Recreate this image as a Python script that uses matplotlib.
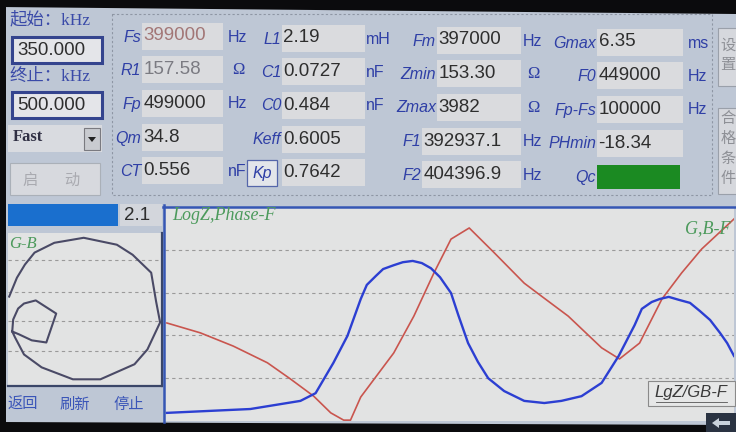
import matplotlib
matplotlib.use("Agg")
import matplotlib.pyplot as plt
from matplotlib.patches import Rectangle, Polygon

# ---------------- data ----------------
start_khz = "350.000"
stop_khz = "500.000"
speed_mode = "Fast"
progress_value = "2.1"

col1_labels = ["Fs", "R1", "Fp", "Qm", "CT"]
col1_values = ["399000", "157.58", "499000", "34.8", "0.556"]
col1_units = ["Hz", "Ω", "Hz", "", "nF"]

col2_labels = ["L1", "C1", "C0", "Keff", "Kp"]
col2_values = ["2.19", "0.0727", "0.484", "0.6005", "0.7642"]
col2_units = ["mH", "nF", "nF", "", ""]

col3_labels = ["Fm", "Zmin", "Zmax", "F1", "F2"]
col3_values = ["397000", "153.30", "3982", "392937.1", "404396.9"]
col3_units = ["Hz", "Ω", "Ω", "Hz", "Hz"]

col4_labels = ["Gmax", "F0", "Fp-Fs", "PHmin", "Qc"]
col4_values = ["6.35", "449000", "100000", "-18.34", ""]
col4_units = ["ms", "Hz", "Hz", "", ""]

# main chart curves (frequency in kHz, value in grid divisions)
blue_f = [350.5, 372.5, 385.7, 389.7, 394.4, 398.1, 401.6, 403.2, 405.6, 407.5,
          410.3, 412.7, 415.3, 417.7, 420.1, 422.5, 425.4, 427.3, 429.9, 432.5,
          435.2, 439.4, 444.7, 450.0, 454.5, 459.8, 465.1, 469.6, 473.8, 475.7,
          478.3, 480.4, 482.8, 485.5, 488.4, 491.0, 493.7, 496.3, 498.2, 500.0]
blue_v = [0.19, 0.28, 0.47, 0.65, 1.36, 1.99, 2.85, 3.18, 3.39, 3.55,
          3.64, 3.71, 3.74, 3.69, 3.57, 3.36, 2.99, 2.48, 1.82, 1.38,
          1.00, 0.70, 0.47, 0.42, 0.47, 0.58, 0.89, 1.52, 2.24, 2.62,
          2.78, 2.85, 2.90, 2.83, 2.76, 2.57, 2.36, 2.06, 1.82, 1.52]
red_f = [350.5, 359.3, 368.0, 377.0, 383.1, 389.2, 393.7, 397.1, 398.9, 401.6,
         410.3, 415.6, 420.9, 425.4, 430.2, 436.8, 444.7, 449.2, 456.3, 465.1,
         469.8, 475.1, 481.0, 486.2, 491.5, 500.0]
red_v = [2.29, 2.06, 1.75, 1.36, 0.98, 0.58, 0.19, 0.02, 0.02, 0.56,
         1.59, 2.45, 3.46, 4.25, 4.51, 3.93, 3.22, 2.92, 2.45, 1.71,
         1.45, 1.82, 2.85, 3.46, 4.02, 4.72]

# G-B admittance loop (mS)
gb_g = [0.00, 0.33, 0.67, 1.08, 1.92, 3.17, 4.58, 5.25, 6.04, 6.25, 6.42, 5.88,
        5.33, 3.88, 2.71, 1.38, 0.63, 0.25, 0.13, 0.17, 0.38, 0.63, 1.13, 2.00,
        1.58, 0.96, 0.42, 0.13]
gb_b = [0.54, 1.33, 1.88, 2.38, 2.79, 3.00, 2.71, 2.29, 1.54, 0.33, -0.54, -1.67,
        -2.29, -2.92, -2.92, -2.42, -1.88, -1.17, -0.92, -0.42, 0.04, 0.25, 0.38, -0.17,
        -1.38, -1.29, -1.04, -0.92]

# ---------------- styles ----------------
BG = "#bec7d5"
BOX = "#dadbde"
LBL = "#2f3fa6"
VAL = "#2e2e2e"
CJK = ["Noto Sans CJK SC", "DejaVu Sans"]
SERIF_CJK = ["Liberation Serif", "Noto Sans CJK SC"]
SANS = "Liberation Sans"

W, H = 736, 432
fig = plt.figure(figsize=(W / 100, H / 100), dpi=100)
fig.patch.set_facecolor(BG)

bg = fig.add_axes([0, 0, 1, 1])
bg.set_xlim(0, W)
bg.set_ylim(H, 0)
bg.axis("off")
bg.set_facecolor(BG)


def rect(ax, x0, y0, x1, y1, fc, ec="none", lw=0, ls="-", z=1):
    ax.add_patch(Rectangle((x0, y0), x1 - x0, y1 - y0, facecolor=fc,
                           edgecolor=ec, linewidth=lw, linestyle=ls, zorder=z))


def txt(ax, x, y, s, size=12, color=VAL, ha="left", family=SANS, style="normal",
        weight="normal", z=5):
    ax.text(x, y, s, fontsize=size, color=color, ha=ha, va="center",
            family=family, style=style, weight=weight, zorder=z)


# screen background
rect(bg, 0, 0, W, H, BG)

# left column controls
txt(bg, 9, 20, "起始：kHz", size=12.5, color="#3a4aa8", family=SERIF_CJK)
rect(bg, 12, 37, 102, 63, "#e4e5e9", "#34448e", 2.2)
txt(bg, 17, 50.5, start_khz, size=13.5)
txt(bg, 9, 77, "终止：kHz", size=12.5, color="#3a4aa8", family=SERIF_CJK)
rect(bg, 12, 92, 102, 118, "#e4e5e9", "#34448e", 2.2)
txt(bg, 17, 105.5, stop_khz, size=13.5)
rect(bg, 8, 125, 102, 152, "#d9dbe0")
txt(bg, 13, 137, speed_mode, size=12, color="#303044", family="Liberation Serif",
    weight="bold")
rect(bg, 84, 128, 100, 150, "#c9cbd0", "#7a7a80", 0.8)
bg.add_patch(Polygon([(88, 137), (96, 137), (92, 142)], closed=True,
                     facecolor="#222222", zorder=3))
rect(bg, 10, 163, 100, 195, "#d7d9de", "#aab0b8", 0.8)
txt(bg, 30, 180, "启", size=11, color="#a9aab0", family=CJK, ha="center")
txt(bg, 72, 180, "动", size=11, color="#a9aab0", family=CJK, ha="center")

# dashed parameter panel
rect(bg, 112, 14, 712, 195, "none", "#8e96a4", 0.8, ls=(0, (2, 2)))

# parameter table
row_y = [36, 69.5, 103, 137, 170.5]
columns = [
    dict(lab=col1_labels, val=col1_values, unit=col1_units, shift=0,
         bx=[(142, 223)] * 5, unit_x=228),
    dict(lab=col2_labels, val=col2_values, unit=col2_units, shift=2,
         bx=[(282, 365)] * 5, unit_x=366),
    dict(lab=col3_labels, val=col3_values, unit=col3_units, shift=4,
         bx=[(437, 521)] * 3 + [(422, 521)] * 2, unit_x=523),
    dict(lab=col4_labels, val=col4_values, unit=col4_units, shift=6,
         bx=[(597, 683)] * 4 + [(597, 680)], unit_x=688),
]
val_colors = {("Fs", 0): "#a27676", ("R1", 0): "#7b7b82"}
for ci, col in enumerate(columns):
    for r in range(5):
        yc = row_y[r] + col["shift"]
        x0, x1 = col["bx"][r]
        lab = col["lab"][r]
        if lab == "Qc":
            rect(bg, x0, yc - 12, x1, yc + 12, "#1b8a22")
        else:
            rect(bg, x0, yc - 13.5, x1, yc + 13.5, BOX)
        if lab == "Kp":
            rect(bg, 247, yc - 13, 277, yc + 13, "#e3e5ea", "#5566aa", 0.9)
            txt(bg, 262, yc + 1, lab, size=11.5, color=LBL, style="italic",
                ha="center")
        else:
            txt(bg, x0 - 1, yc + 1, lab, size=11.5, color=LBL, style="italic",
                ha="right")
        v = col["val"][r]
        if v:
            txt(bg, x0 + 1.5, yc, v, size=13.5,
                color=val_colors.get((lab, ci), VAL))
        u = col["unit"][r]
        if u:
            if u == "Ω":
                txt(bg, col["unit_x"] + 4, yc + 1, u, size=12, color=LBL,
                    family="Liberation Serif")
            else:
                txt(bg, col["unit_x"], yc + 1, u, size=11.5, color=LBL)

# right side buttons
rect(bg, 718, 28, 740, 86, "#d6d8dd", "#9aa0aa", 0.8)
for i, ch in enumerate("设置"):
    txt(bg, 728, 45 + 19 * i, ch, size=11, color="#8e9096", family=CJK,
        ha="center")
rect(bg, 718, 108, 740, 194, "#d6d8dd", "#9aa0aa", 0.8)
for i, ch in enumerate("合格条件"):
    txt(bg, 728, 118 + 20 * i, ch, size=11, color="#8e9096", family=CJK,
        ha="center")

# progress bar
rect(bg, 8, 204, 118, 226, "#1a6fce")
rect(bg, 120, 204, 162, 226, "#d3d6dc")
txt(bg, 124, 215, progress_value, size=13.5)

# bottom-left command labels
for x, s in [(8, "返回"), (60, "刷新"), (113, "停止")]:
    txt(bg, x, 404, s, size=11, color="#3a55b8", family=CJK)

# ---------------- G-B chart ----------------
gx0, gx1, gy0, gy1 = 8, 162, 233, 386
ax_gb = fig.add_axes([gx0 / W, 1 - gy1 / H, (gx1 - gx0) / W, (gy1 - gy0) / H])
ax_gb.set_facecolor("#e2e3e3")
ax_gb.set_xlim(-0.05, 6.5)
ax_gb.set_ylim(-3.2, 3.2)
for yv in [-1.75, -0.5, 0.75, 2.05]:
    ax_gb.axhline(yv, color="#9a9a9a", lw=0.8, ls=(0, (3, 3)), zorder=1)
ax_gb.plot(gb_g, gb_b, color="#4a4a66", lw=1.5, zorder=3,
           solid_joinstyle="round")
ax_gb.set_xticks([])
ax_gb.set_yticks([])
for s in ["left", "top"]:
    ax_gb.spines[s].set_visible(False)
for s in ["right", "bottom"]:
    ax_gb.spines[s].set_color("#3a4668")
    ax_gb.spines[s].set_linewidth(1.6)
ax_gb.text(0.01, 0.93, "G-B", transform=ax_gb.transAxes, fontsize=12,
           color="#4c9a5c", family="Liberation Serif", style="italic",
           va="center")

# ---------------- main chart ----------------
mx0, mx1, my0, my1 = 165, 734, 207, 421
ax = fig.add_axes([mx0 / W, 1 - my1 / H, (mx1 - mx0) / W, (my1 - my0) / H])
ax.set_facecolor("#e2e3e3")
ax.set_xlim(350, 500)
ax.set_ylim(0, 5)
for yv in [1, 2, 3, 4]:
    ax.axhline(yv, color="#9a9a9a", lw=0.8, ls=(0, (3, 3)), zorder=1)
ax.plot(red_f, red_v, color="#c9554e", lw=1.2, zorder=3,
        solid_joinstyle="round")
ax.plot(blue_f, blue_v, color="#2c3fd2", lw=1.7, zorder=4,
        solid_joinstyle="round")
ax.set_xticks([])
ax.set_yticks([])
for s in ax.spines.values():
    s.set_visible(False)

# ---------------- overlay ----------------
ov = fig.add_axes([0, 0, 1, 1], zorder=10)
ov.set_xlim(0, W)
ov.set_ylim(H, 0)
ov.axis("off")
ov.patch.set_alpha(0)

ov.plot([163, W], [207, 207], color="#3556b4", lw=1.8)
ov.plot([164, 164], [205, 422], color="#3556b4", lw=1.8)
txt(ov, 172, 215, "LogZ,Phase-F", size=13, color="#4c9a5c",
    family="Liberation Serif", style="italic")
txt(ov, 731, 229, "G,B-F", size=13, color="#4c9a5c", family="Liberation Serif",
    style="italic", ha="right")
rect(ov, 648, 381, 735, 406, "#e6e7e7", "#8a8a8a", 0.8)
txt(ov, 691, 393, "LgZ/GB-F", size=12, color="#3a3a3a", ha="center",
    style="italic", family="Liberation Sans")
ov.plot([656, 727], [402, 402], color="#555555", lw=0.6)

# black photo borders
ov.add_patch(Polygon([(0, 0), (W, 0), (W, 14), (0, 7)], closed=True,
                     facecolor="#0b0b0d", zorder=1))
rect(ov, 0, 0, 6, H, "#0b0b0d")
ov.add_patch(Polygon([(0, 422), (W, 425), (W, H), (0, H)], closed=True,
                     facecolor="#0b0b0d", zorder=1))
rect(ov, 706, 413, W, H, "#2a3342", z=2)
ov.add_patch(Polygon([(712, 423), (719, 418), (719, 421), (730, 421),
                      (730, 425), (719, 425), (719, 428)], closed=True,
                     facecolor="#c9d2dc", zorder=3))

fig.savefig("out.png", dpi=100, facecolor=fig.get_facecolor())
